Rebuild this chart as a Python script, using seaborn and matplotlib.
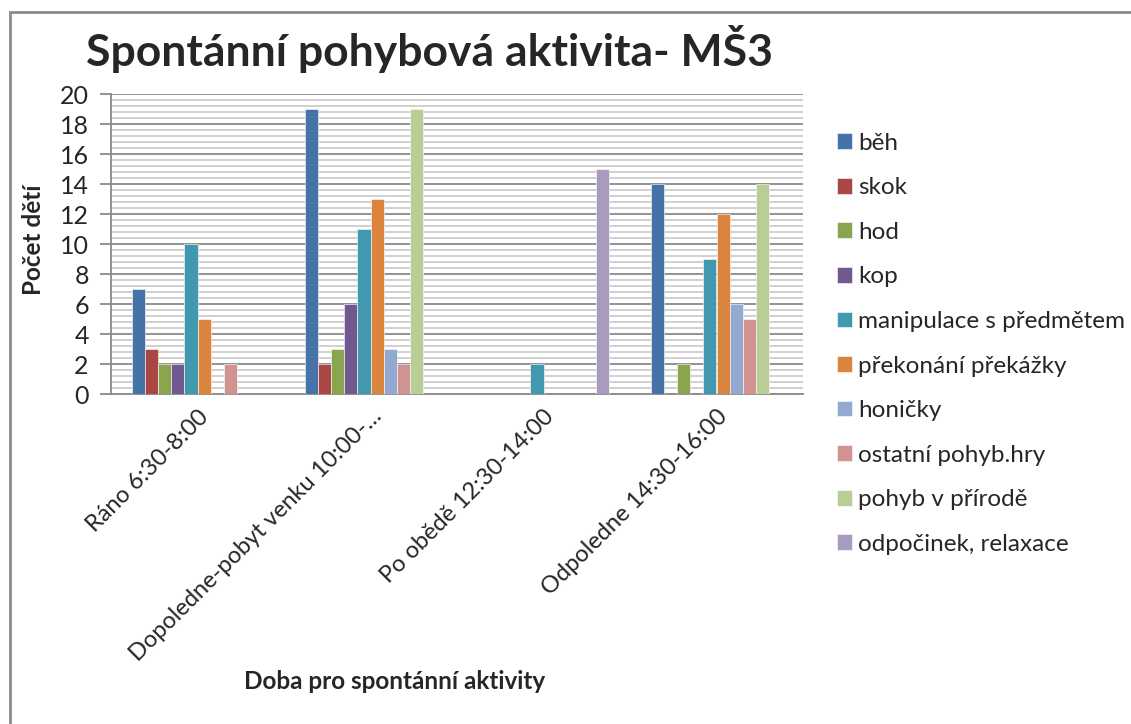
import pandas as pd
import matplotlib
matplotlib.use("Agg")
import matplotlib.pyplot as plt
import seaborn as sns
from matplotlib.patches import Rectangle
from matplotlib.ticker import MultipleLocator

# data
casy = ['Ráno 6:30-8:00', 'Dopoledne-pobyt venku 10:00-…',
        'Po obědě 12:30-14:00', 'Odpoledne 14:30-16:00']
aktivity = ['běh', 'skok', 'hod', 'kop', 'manipulace s předmětem',
            'překonání překážky', 'honičky', 'ostatní pohyb.hry',
            'pohyb v přírodě', 'odpočinek, relaxace']
rano = [7, 3, 2, 2, 10, 5, 0, 2, 0, 0]
dopoledne = [19, 2, 3, 6, 11, 13, 3, 2, 19, 0]
po_obede = [0, 0, 0, 0, 2, 0, 0, 0, 0, 15]
odpoledne = [14, 0, 2, 0, 9, 12, 6, 5, 14, 0]
barvy = ['#4572A7', '#AA4643', '#89A54E', '#71588F', '#4198AF',
         '#DB843D', '#93A9CF', '#D19392', '#B9CD96', '#A99BBD']

radky = []
for cas, hodnoty in zip(casy, [rano, dopoledne, po_obede, odpoledne]):
    for akt, h in zip(aktivity, hodnoty):
        radky.append({'cas': cas, 'aktivita': akt, 'pocet': h})
df = pd.DataFrame(radky)

sns.set_style("white")
plt.rcParams['font.family'] = ['Lato', 'DejaVu Sans']

fig = plt.figure(figsize=(11.31, 7.24), dpi=100)
ax = fig.add_axes([111/1131, 1 - 394/724, (803 - 111)/1131, 300/724])

sns.barplot(data=df, x='cas', y='pocet', hue='aktivita', hue_order=aktivity,
            order=casy, palette=barvy, width=0.76, gap=0, ax=ax,
            saturation=1, edgecolor='white', linewidth=0.4, legend=True,
            zorder=3)

ax.set_ylim(0, 20)
ax.set_xlim(-0.5, 3.5)
ax.yaxis.set_major_locator(MultipleLocator(2))
ax.yaxis.set_minor_locator(MultipleLocator(0.4))
ax.grid(which='major', axis='y', color='#8a8a8a', lw=1.3, zorder=0)
ax.grid(which='minor', axis='y', color='#c4c4c4', lw=1.1, zorder=0)
ax.set_axisbelow(True)
for s in ['top', 'right']:
    ax.spines[s].set_visible(False)
ax.spines['left'].set_color('#8a8a8a')
ax.spines['bottom'].set_color('#8a8a8a')
ax.spines['left'].set_linewidth(1.3)
ax.spines['bottom'].set_linewidth(1.3)
ax.tick_params(axis='y', which='major', left=True, length=8, color='#8a8a8a',
               width=1.3, labelsize=18, pad=8)
ax.tick_params(axis='y', which='minor', left=False)
ax.tick_params(axis='x', bottom=False, labelsize=17, pad=5)
plt.setp(ax.get_xticklabels(), rotation=45, ha='right', rotation_mode='anchor')

ax.set_xlabel('Doba pro spontánní aktivity', fontsize=17.5, fontweight='bold')
ax.set_ylabel('Počet dětí', fontsize=17.5, fontweight='bold')
ax.xaxis.set_label_coords((395 - 111)/692, (394 - 670)/300)
ax.yaxis.set_label_coords((45 - 111)/692, (394 - 240)/300)
fig.text(0.38, 0.932, 'Spontánní pohybová aktivita- MŠ3', fontsize=32,
         fontweight='bold', ha='center', va='center')

handles, labels = ax.get_legend_handles_labels()
ax.legend_.remove()
fig.legend(handles, labels, loc='upper left', bbox_to_anchor=(827/1131, 1 - 123/724),
           frameon=False, fontsize=17.5, handlelength=0.62, handleheight=0.62,
           handletextpad=0.25, labelspacing=0.97, borderaxespad=0)

fig.patches.append(Rectangle((10/1131, -0.2), 1.5, 0.2 + 1 - 12/724,
                             transform=fig.transFigure, fill=False,
                             edgecolor='#8a8a8a', lw=2))

fig.savefig('out.png', dpi=100)
